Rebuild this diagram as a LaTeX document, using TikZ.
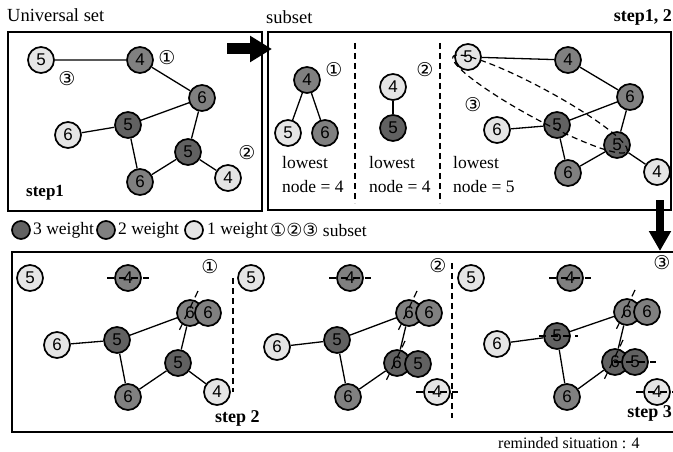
\documentclass[tikz,border=0pt]{standalone}
\usepackage{fontspec}
\setmainfont{Liberation Serif}
\setsansfont{Liberation Sans}
\newfontfamily\circfont{DejaVu Sans}
\usetikzlibrary{arrows.meta}

\begin{document}
\begin{tikzpicture}[x=1pt, y=-1pt,
  vtx/.style={circle, draw, line width=1.7pt, minimum size=26pt, inner sep=0pt, font=\fontsize{17}{17}\sffamily},
  wthree/.style={vtx, fill=black!62},
  wtwo/.style={vtx, fill=black!50},
  wone/.style={vtx, fill=black!10},
  edge/.style={line width=1.3pt},
  box/.style={draw, line width=1.5pt},
  sep/.style={line width=1.2pt, dash pattern=on 6pt off 4pt},
  cut/.style={line width=1.2pt, dash pattern=on 7pt off 5pt},
  tag/.style={font=\fontsize{19}{19}\circfont, inner sep=0pt},
  txt/.style={font=\fontsize{17.5}{24}\selectfont, inner sep=0pt},
  head/.style={font=\fontsize{18.5}{20}\selectfont, inner sep=0pt},
  stepname/.style={font=\fontsize{18}{20}\selectfont\bfseries, inner sep=0pt},
  bigarrow/.style={line width=11pt, -{Triangle[length=22pt, width=25pt]}},
]
\useasboundingbox (0,0) rectangle (673,452);

% frames and titles
\draw[box] (8,32) rectangle (262,211);
\draw[box] (268,32) rectangle (671,210);
\draw[box] (12,252) rectangle (690,432);
\node[head, anchor=west] (univ) at (7,15) {Universal set};
\node[head, anchor=west] (subs) at (266,17) {subset};
\node[stepname, anchor=east] (st12) at (672,17) {step1, 2};
\node[stepname, anchor=west, font=\fontsize{17}{20}\selectfont\bfseries] (st1) at (26,193) {step1};

% universal set
\node[wone] (u5) at (41,60) {5};
\node[wtwo] (u4) at (140,60) {4};
\node[wtwo] (u6) at (202,98) {6};
\node[wthree] (u5m) at (128,125) {5};
\node[wone] (u6l) at (68,135) {6};
\node[wthree] (u5r) at (188,152) {5};
\node[wone] (u4r) at (228,178) {4};
\node[wtwo] (u6d) at (140,182) {6};
\draw[edge] (u5) -- (u4) -- (u6) -- (u5m) -- (u6l) (u5m) -- (u6d) -- (u5r) -- (u6) (u5r) -- (u4r);
\node[tag] (ut1) at (167,58) {①};
\node[tag] (ut2) at (247,153) {②};
\node[tag] (ut3) at (67,79) {③};

\coordinate (ra) at (227,49);
\coordinate (rb) at (272,49);
\draw[bigarrow] (ra) -- (rb);

% subsets
\node[wtwo] (s4) at (307,80) {4};
\node[wone] (s5) at (288,133) {5};
\node[wtwo] (s6) at (325,133) {6};
\draw[edge] (s5) -- (s4) -- (s6);
\node[tag] (st1a) at (334,70) {①};
\node[txt, anchor=west, align=left] (low1) at (282,175) {lowest\\node = 4};

\node[wone] (r4) at (393,87) {4};
\node[wthree] (r5) at (393,128) {5};
\draw[edge] (r4) -- (r5);
\node[tag] (st2a) at (425,70) {②};
\node[txt, anchor=west, align=left] (low2) at (369,175) {lowest\\node = 4};

\draw[sep] (355,43) -- (355,203);
\draw[sep] (440,43) -- (440,203);

\node[wone] (g5) at (468,57) {5};
\node[wtwo] (g4) at (568,60) {4};
\node[wtwo] (g6) at (630,97) {6};
\node[wthree] (g5m) at (557,125) {5};
\node[wone] (g6l) at (497,130) {6};
\node[wthree] (g5r) at (617,145) {5};
\node[wone] (g4r) at (657,172) {4};
\node[wtwo] (g6d) at (568,173) {6};
\draw[edge] (g5) -- (g4) -- (g6) -- (g5m) -- (g6l) (g5m) -- (g6d) -- (g5r) -- (g6) (g5r) -- (g4r);
\draw[sep, rotate around={-28.5:(540,104)}] (540,104) ellipse [x radius=99pt, y radius=15pt];
\node[tag] (st3a) at (473,105) {③};
\node[txt, anchor=west, align=left] (low3) at (453,175) {lowest\\node = 5};

\coordinate (da) at (660,200);
\coordinate (db) at (660,251);
\draw[bigarrow, line width=8pt, -{Triangle[length=20pt, width=21pt]}] (da) -- (db);

% legend
\node[wthree, minimum size=18pt] (k3) at (21,230) {};
\node[txt, anchor=west] (k3t) at (33,230) {3 weight};
\node[wtwo, minimum size=18pt] (k2) at (106,230) {};
\node[txt, anchor=west] (k2t) at (118,230) {2 weight};
\node[wone, minimum size=18pt] (k1) at (194,230) {};
\node[txt, anchor=west] (k1t) at (207,230) {1 weight};
\node[txt, anchor=west] (kt) at (270,230) {{\circfont\fontsize{18}{18}\selectfont ①②③} subset};

% step 2 and step 3
\begin{scope}[name prefix=a-]
\node[wone] (p5) at (30,278) {5};
\node[wtwo] (p4) at (128,278) {4};
\node[wtwo] (p6) at (190,313) {6};
\node[wtwo] (p6c) at (208,313) {6};
\node[wthree] (p5m) at (117,340) {5};
\node[wone] (p6l) at (57,345) {6};
\node[wthree] (p5r) at (178,363) {5};
\node[wone] (p4r) at (217,392) {4};
\node[wtwo] (p6d) at (128,397) {6};
\draw[edge] (p6l) -- (p5m) -- (p6) -- (p5r) -- (p6d) -- (p5m) (p5r) -- (p4r);
\draw[cut] ([xshift=-21pt]p4.center) -- ([xshift=21pt]p4.center);
\draw[cut] ([xshift=8pt, yshift=22pt]p6.center) -- ([xshift=-12pt, yshift=-20pt]p6.center);
\node[tag] (t) at (210,267) {①};
\end{scope}

\begin{scope}[xshift=220pt, name prefix=b-]
\node[wone] (p5) at (31,278) {5};
\node[wtwo] (p4) at (130,278) {4};
\node[wtwo] (p6) at (189,313) {6};
\node[wtwo] (p6c) at (209,313) {6};
\node[wthree] (p5m) at (117,340) {5};
\node[wone] (p6l) at (57,347) {6};
\node[wthree] (p5r) at (177,363) {6};
\node[wthree] (p5c) at (198,364) {5};
\node[wone] (p4r) at (217,392) {4};
\node[wtwo] (p6d) at (128,397) {6};
\draw[edge] (p6l) -- (p5m) -- (p6) -- (p5r) -- (p6d) -- (p5m);
\draw[cut] ([xshift=-21pt]p4.center) -- ([xshift=21pt]p4.center);
\draw[cut] ([xshift=-21pt]p4r.center) -- ([xshift=21pt]p4r.center);
\draw[cut] ([xshift=8pt, yshift=22pt]p6.center) -- ([xshift=-12pt, yshift=-20pt]p6.center);
\draw[cut] ([xshift=8pt, yshift=22pt]p5r.center) -- ([xshift=-12pt, yshift=-20pt]p5r.center);
\node[tag] (t) at (218,266) {②};
\end{scope}

\begin{scope}[xshift=440pt, name prefix=c-]
\node[wone] (p5) at (31,278) {5};
\node[wtwo] (p4) at (130,278) {4};
\node[wtwo] (p6) at (187,312) {6};
\node[wtwo] (p6c) at (207,312) {6};
\node[wthree] (p5m) at (117,336) {5};
\node[wone] (p6l) at (57,344) {6};
\node[wthree] (p5r) at (175,362) {6};
\node[wthree] (p5c) at (195,362) {5};
\node[wone] (p4r) at (217,392) {4};
\node[wtwo] (p6d) at (127,397) {6};
\draw[edge] (p6l) -- (p5m) -- (p6) -- (p5r) -- (p6d) -- (p5m);
\draw[cut] ([xshift=-21pt]p4.center) -- ([xshift=21pt]p4.center);
\draw[cut] ([xshift=-18pt]p5m.center) -- ([xshift=21pt]p5m.center);
\draw[cut] ([xshift=-21pt]p5c.center) -- ([xshift=21pt]p5c.center);
\draw[cut] ([xshift=-21pt]p4r.center) -- ([xshift=21pt]p4r.center);
\draw[cut] ([xshift=8pt, yshift=22pt]p6.center) -- ([xshift=-12pt, yshift=-20pt]p6.center);
\draw[cut] ([xshift=8pt, yshift=22pt]p5r.center) -- ([xshift=-12pt, yshift=-20pt]p5r.center);
\node[tag] (t) at (222,263) {③};
\end{scope}

\draw[sep] (233,278) -- (233,392);
\draw[sep] (452,263) -- (452,418);
\node[stepname, anchor=west] (st2) at (215,418) {step 2};
\node[stepname, anchor=east] (st3) at (672,413) {step 3};
\node[txt, anchor=west, font=\fontsize{16}{16}\selectfont] (remind) at (498,443) {reminded situation : 4};
\end{tikzpicture}
\end{document}
